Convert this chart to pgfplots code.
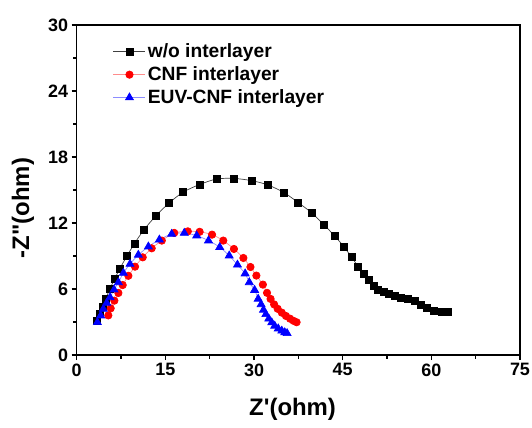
\documentclass[border=0pt]{standalone}
\usepackage{fontspec}
\setmainfont{Liberation Sans}
\newfontfamily\lab{Liberation Sans}
\usepackage{pgfplots}
\pgfplotsset{compat=1.18}

\begin{document}
\begin{tikzpicture}
\begin{axis}[
    width=443.3bp, height=330bp, scale only axis,
    xmin=0, xmax=75, ymin=0, ymax=30,
    xtick={0,15,...,75}, ytick={0,6,...,30},
    minor x tick num=1, minor y tick num=1,
    xtick pos=lower, ytick pos=left,
    tick align=outside,
    major tick length=5bp, minor tick length=3.5bp,
    axis line style={line width=1.2bp},
    every tick/.style={black, line width=1.1bp},
    /pgf/number format/assume math mode=true,
    tick label style={font=\fontsize{18}{18}\selectfont\bfseries},
    xlabel={\lab Z'(ohm)}, ylabel={\lab -Z"(ohm)},
    label style={font=\fontsize{24}{24}\selectfont\bfseries, inner sep=0pt},
    xlabel style={at={(axis description cs:0.487,-0.13)}, anchor=north},
    ylabel style={at={(axis description cs:-0.121,0.445)}, anchor=center},
    legend style={draw=none, fill=none, at={(0.075,0.955)}, anchor=north west,
        font=\fontsize{19.3}{19.3}\selectfont\bfseries, row sep=3.5bp},
    legend cell align=left,
    legend image code/.code={\draw[mark repeat=2,mark phase=2] plot coordinates {(0bp,0bp) (16bp,0bp) (32bp,0bp)};},
]
% w/o interlayer
\addplot[black!75, line width=0.7bp, smooth, mark=square*, mark size=3.5bp,
    mark options={fill=black, draw=black}] coordinates {
(3.4,3.1) (3.9,3.75) (4.4,4.4) (4.9,5.1) (5.6,6.0) (6.4,6.9) (7.3,7.85) (8.5,9.0)
(9.8,10.15) (11.4,11.4) (13.4,12.65) (15.6,13.8) (18.0,14.8) (20.8,15.5) (23.7,16.0)
(26.6,16.05) (29.6,15.85) (32.4,15.45) (35.1,14.75) (37.5,13.85) (39.8,12.9) (41.8,11.85)
(43.6,10.85) (45.2,9.85) (46.5,8.9) (47.6,8.05) (48.5,7.4) (49.4,6.8) (50.2,6.3)
(51.0,5.95) (51.9,5.7) (52.8,5.52) (53.8,5.38) (54.9,5.24) (56.1,5.1) (57.2,4.95)
(58.3,4.6) (59.3,4.25) (60.4,4.02) (61.7,3.88) (62.8,3.88)
};
\addlegendentry{w/o interlayer}
% CNF interlayer
\addplot[red!45, line width=0.7bp, smooth, mark=*, mark size=3.7bp,
    mark options={fill=red, draw=red}] coordinates {
(5.35,3.6) (5.75,4.24) (6.37,4.94) (7.05,5.64) (7.78,6.36) (8.74,7.2) (9.87,8.03)
(11.17,8.88) (12.69,9.7) (14.4,10.4) (16.5,11.1) (18.8,11.24) (20.8,11.2) (22.9,10.94)
(24.8,10.4) (26.6,9.64) (28.2,8.82) (29.4,8.0) (30.4,7.22) (31.5,6.4) (32.2,5.65)
(32.8,5.1) (33.4,4.6) (34.0,4.2) (34.7,3.85) (35.4,3.55) (36.1,3.3) (36.7,3.1) (37.2,2.98)
};
\addlegendentry{CNF interlayer}
% EUV-CNF interlayer
\addplot[blue!45, line width=0.7bp, smooth, mark=triangle*, mark size=4.6bp,
    mark options={fill=blue, draw=blue}] coordinates {
(3.5,2.97) (4.06,3.58) (4.5,4.18) (5.08,4.73) (5.64,5.24) (6.32,5.94) (7.05,6.6)
(7.9,7.45) (9.02,8.27) (10.43,9.1) (12.13,9.85) (13.99,10.48) (16.07,11.0) (18.2,11.09)
(20.3,10.85) (22.3,10.4) (24.2,9.8) (25.8,9.03) (27.2,8.2) (28.5,7.4) (29.2,6.6)
(30.1,5.9) (30.7,5.1) (31.2,4.6) (31.6,4.1) (32.0,3.7) (32.5,3.3) (33.0,2.95)
(33.5,2.65) (34.1,2.4) (34.7,2.2) (35.2,2.05) (35.6,1.97)
};
\addlegendentry{EUV-CNF interlayer}
\coordinate (bl) at (rel axis cs:0,0);
\coordinate (tr) at (rel axis cs:1,1);
\end{axis}
\pgfresetboundingbox
\path ([shift={(-76.7bp,-73bp)}]bl) rectangle ([shift={(12bp,25bp)}]tr);
\end{tikzpicture}
\end{document}
